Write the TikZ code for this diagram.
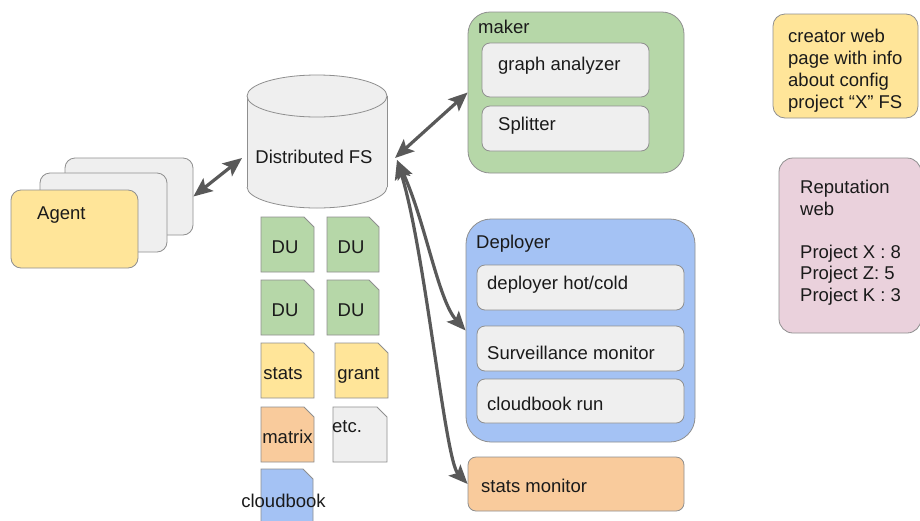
\documentclass[tikz,border=0pt]{standalone}
\usepackage{fontspec}
\setmainfont{Liberation Sans}
\usetikzlibrary{arrows.meta}

\definecolor{paleGray}{HTML}{EFEFEF}
\definecolor{paleYellow}{HTML}{FFE599}
\definecolor{paleGreen}{HTML}{B6D7A8}
\definecolor{paleBlue}{HTML}{A4C2F4}
\definecolor{paleOrange}{HTML}{F9CB9C}
\definecolor{palePink}{HTML}{EAD1DC}
\definecolor{edgeGray}{HTML}{8F8F8F}
\definecolor{linkGray}{HTML}{595959}
\definecolor{inkText}{HTML}{1A1A1A}

% file icon with a cut top-right corner: x1, y1, x2, y2, fill colour
\newcommand{\fileicon}[5]{%
  \filldraw[draw=edgeGray, line width=0.8pt, fill=#5]
    (#1,#2) -- ({#3-10},#2) -- (#3,{#2+10}) -- (#3,#4) -- (#1,#4) -- cycle;}

\tikzset{fathead/.tip={Stealth[length=19pt, width=16pt, inset=4pt]}}

\begin{document}
\begin{tikzpicture}[x=1pt, y=-1pt,
  every node/.style={font=\fontsize{18.5}{22}\selectfont, text=inkText},
  card/.style={draw=edgeGray, line width=0.8pt, rounded corners=#1, inner sep=0pt},
  card/.default=9pt,
  lbl/.style={anchor=mid west, inner sep=0pt, yshift=-3.5pt},
  doclbl/.style={anchor=mid, inner sep=0pt, yshift=-3.5pt},
  link/.style={draw=linkGray, line width=3.2pt, fathead-fathead},
]
\useasboundingbox[fill=white] (0,0) rectangle (920,520);

% ---- agent stack ----
\node[card=10pt, fill=paleGray, minimum width=128pt, minimum height=77pt] (agback) at (129,196.5) {};
\node[card=10pt, fill=paleGray, minimum width=127pt, minimum height=79pt] (agmid) at (103.5,212.5) {};
\node[card=10pt, fill=paleYellow, minimum width=127pt, minimum height=78pt] (agent) at (74.5,229) {};
\node[lbl] (agentlbl) at (37,213) {Agent};

% ---- distributed file system (cylinder) ----
\node[minimum width=140pt, minimum height=133pt, inner sep=0pt] (fs) at (317,141.5) {};
\fill[paleGray] (247,96) rectangle (387,187);
\fill[paleGray] (317,187) ellipse [x radius=70pt, y radius=21pt];
\draw[edgeGray, line width=0.8pt] (247,96) -- (247,187) (387,96) -- (387,187);
\begin{scope}
  \clip (240,187) rectangle (395,215);
  \draw[edgeGray, line width=0.8pt] (317,187) ellipse [x radius=70pt, y radius=21pt];
\end{scope}
\filldraw[draw=edgeGray, line width=0.8pt, fill=paleGray] (317,96) ellipse [x radius=70pt, y radius=21pt];
\node[doclbl] (fslbl) at (314,157) {Distributed FS};
\coordinate (fsL) at (242,158);
\coordinate (fsR) at (395,158);
\coordinate (fsR2) at (397,160);

% ---- stored files ----
\fileicon{261}{217}{314}{272}{paleGreen}
\fileicon{327}{217}{379}{272}{paleGreen}
\fileicon{261}{280}{314}{335}{paleGreen}
\fileicon{327}{280}{379}{335}{paleGreen}
\fileicon{261}{343}{314}{398}{paleYellow}
\fileicon{335}{343}{388}{398}{paleYellow}
\fileicon{261}{407}{314}{462}{paleOrange}
\fileicon{333}{407}{387}{462}{paleGray}
\fileicon{261}{469}{313}{530}{paleBlue}
\node[doclbl] (du1) at (285,247) {DU};
\node[doclbl] (du2) at (351,247) {DU};
\node[doclbl] (du3) at (285,310) {DU};
\node[doclbl] (du4) at (351,310) {DU};
\node[doclbl] (stats) at (283,373) {stats};
\node[doclbl] (grant) at (358.5,373) {grant};
\node[doclbl] (matrix) at (287.5,437) {matrix};
\node[doclbl] (etc) at (347,426) {etc.};
\node[doclbl] (cloudbook) at (283.5,501) {cloudbook};

% ---- maker ----
\node[card=22pt, fill=paleGreen, minimum width=216pt, minimum height=161pt] (maker) at (576,92.5) {};
\node[lbl] (makerlbl) at (478,27) {maker};
\node[card=8pt, fill=paleGray, minimum width=167pt, minimum height=54pt] (graph) at (565.5,70) {};
\node[lbl] (graphlbl) at (498,64) {graph analyzer};
\node[card=8pt, fill=paleGray, minimum width=167pt, minimum height=45pt] (splitter) at (565.5,128.5) {};
\node[lbl] (splitterlbl) at (498,124) {Splitter};

% ---- deployer ----
\node[card=25pt, fill=paleBlue, minimum width=229pt, minimum height=223pt] (deployer) at (580.5,330.5) {};
\node[lbl] (deployerlbl) at (476,242) {Deployer};
\node[card=8pt, fill=paleGray, minimum width=207pt, minimum height=45pt] (hotcold) at (580.5,287.5) {};
\node[lbl] (hotcoldlbl) at (487,283) {deployer hot/cold};
\node[card=8pt, fill=paleGray, minimum width=207pt, minimum height=45pt] (surv) at (580.5,348.5) {};
\node[lbl] (survlbl) at (487,353) {Surveillance monitor};
\node[card=8pt, fill=paleGray, minimum width=207pt, minimum height=44pt] (cbrun) at (580.5,401) {};
\node[lbl] (cbrunlbl) at (487,404) {cloudbook run};

% ---- stats monitor ----
\node[card=8pt, fill=paleOrange, minimum width=216pt, minimum height=54pt] (statsmon) at (576,484) {};
\node[lbl] (statsmonlbl) at (481,486) {stats monitor};

% ---- side notes ----
\node[card=12pt, fill=paleYellow, minimum width=145pt, minimum height=104pt] (creator) at (845.5,66) {};
\node[anchor=north west, inner sep=0pt, align=left] (creatorlbl) at (788,29)
  {creator web\\page with info\\about config\\project “X” FS};
\node[card=14pt, fill=palePink, minimum width=142pt, minimum height=175pt] (reput) at (850,245.5) {};
\node[anchor=north west, inner sep=0pt, align=left,
      font=\fontsize{18.5}{21.5}\selectfont] (reputlbl) at (800,180)
  {Reputation\\web\\[21.5pt]Project X : 8\\Project Z: 5\\Project K : 3};

% ---- connectors ----
\draw[link] (agback.east) -- (fsL);
\draw[link] (fsR) -- (maker.west);
\draw[link] (fsR2) .. controls (425,220) and (438,300) .. (deployer.west);
\draw[link] (fsR2) .. controls (425,250) and (445,460) .. (statsmon.west);
\end{tikzpicture}
\end{document}
